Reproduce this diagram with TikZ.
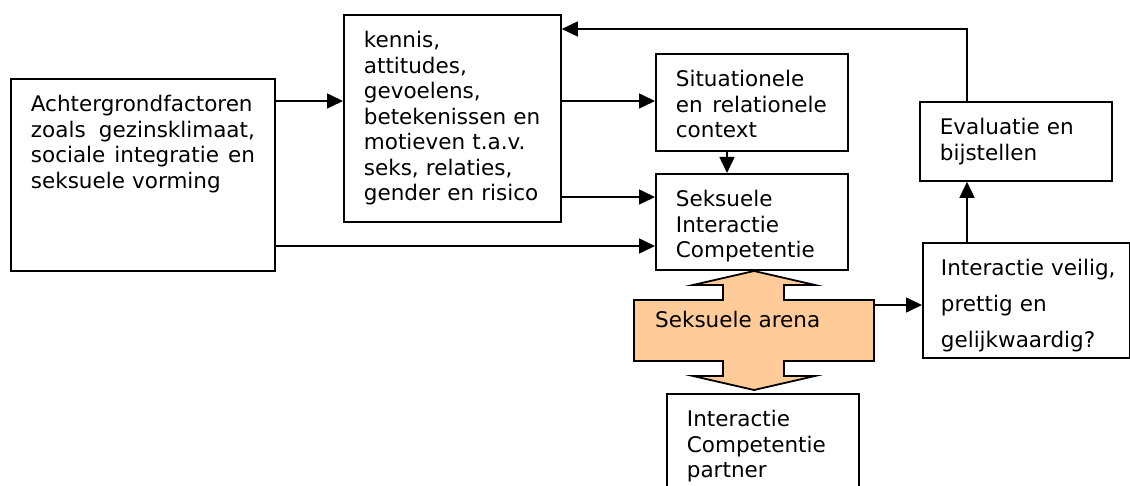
\documentclass[tikz,border=0pt]{standalone}
\usepackage{fontspec}
\setmainfont{DejaVu Sans}
\usetikzlibrary{arrows.meta}
\definecolor{arenaorange}{RGB}{255,204,153}
\begin{document}
\begin{tikzpicture}
[x=1pt,y=-1pt,
  boxdecorate/.style={draw,line width=1.8pt,anchor=north west,inner xsep=20pt,inner ysep=0pt,%
    align=left,text height=33pt,font=\fontsize{21.5}{25.5}\selectfont},%
  linedecorate/.style={line width=1.6pt,-{Triangle[length=16pt,width=15pt]}}]
\useasboundingbox (0,0) rectangle (1130,486);
\clip (0,0) rectangle (1130,486);
%% boxes
\node (agf) at (10,78) [boxdecorate,text width=224pt,text depth=159pt]
  {Achtergrondfactoren\\ \makebox[224pt][s]{zoals\hfill gezinsklimaat,}\\
   \makebox[224pt][s]{sociale\hfill integratie\hfill en}\\ seksuele vorming};
\node (ken) at (343,14) [boxdecorate,text width=177pt,text depth=174pt]
  {kennis,\\ attitudes,\\ gevoelens,\\ betekenissen en\\ motieven t.a.v.\\
   seks, relaties,\\ gender en risico};
\node (sit) at (655,53) [boxdecorate,text width=152pt,text depth=64pt]
  {Situationele\\ en\hspace{0.45em}relationele\\ context};
\node (sic) at (655,173) [boxdecorate,text width=152pt,text depth=63pt]
  {Seksuele\\ Interactie\\ Competentie};
\node (eva) at (919,101) [boxdecorate,text width=152pt,text depth=46pt]
  {Evaluatie en\\ bijstellen};
\node (ivb) at (922,242) [boxdecorate,inner xsep=18pt,text width=171pt,text depth=82pt]
  {\mbox{Interactie veilig,}\\[10.5pt] prettig en\\[10.5pt] gelijkwaardig?};
\node (icp) at (666,393) [boxdecorate,text width=152pt,text depth=94pt]
  {Interactie\\ Competentie\\ partner};
%% double arrow
\draw[line width=1.8pt,fill=arenaorange]
  (754,271) -- (815,285) -- (784,285) -- (784,300) -- (874,300) -- (874,361)
  -- (784,361) -- (784,376) -- (815,376) -- (754,390) -- (693,376) -- (723,376)
  -- (723,361) -- (634,361) -- (634,300) -- (723,300) -- (723,285) -- (693,285) -- cycle;
\node (arena) at (655,327.5) [anchor=base west,inner sep=0pt,font=\fontsize{21.5}{25.5}\selectfont]
  {Seksuele arena};
\coordinate (arenaout) at (874,305);
%% connectors
\draw[linedecorate] (agf.east |- 0,101) -- (ken.west |- 0,101);
\draw[linedecorate] (ken.east |- 0,101) -- (sit.west |- 0,101);
\draw[linedecorate] (ken.east |- 0,197) -- (sic.west |- 0,197);
\draw[linedecorate] (agf.east |- 0,246) -- (sic.west |- 0,246);
\draw[linedecorate] (sit.south -| 727,0) -- (sic.north -| 727,0);
\draw[linedecorate] (arenaout) -- (arenaout -| ivb.west);
\draw[linedecorate] (ivb.north -| 967,0) -- (eva.south -| 967,0);
\draw[linedecorate] (eva.north -| 967,0) |- (ken.east |- 0,29);
\end{tikzpicture}
\end{document}
